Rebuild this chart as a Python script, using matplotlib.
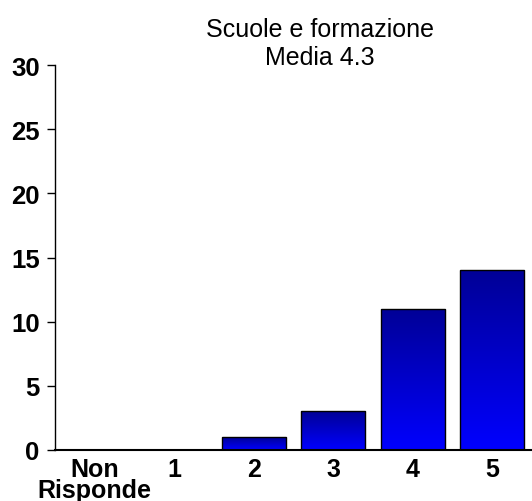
import numpy as np
import matplotlib.pyplot as plt
from matplotlib.colors import LinearSegmentedColormap

categories = ['Non\nRisponde', '1', '2', '3', '4', '5']
counts = [0, 0, 1, 3, 11, 14]
title_lines = ['Scuole e formazione', 'Media 4.3']
yticks = [0, 5, 10, 15, 20, 25, 30]

plt.rcParams['font.family'] = ['Liberation Sans', 'DejaVu Sans']

fig = plt.figure(figsize=(5.32, 5.02), dpi=100)
ax = fig.add_axes([0.1034, 0.1016, 0.8966, 0.7669])

# gradient fill: dark navy at the top of each bar, bright blue at the base
cmap = LinearSegmentedColormap.from_list('bluegrad', ['#0000FF', '#000096'])
grad = np.linspace(0, 1, 256).reshape(-1, 1)

x = np.arange(len(categories))
bars = ax.bar(x, counts, width=0.81, facecolor='none', edgecolor='black',
              linewidth=1.0, zorder=3)
for b in bars:
    h = b.get_height()
    if h <= 0:
        continue
    x0 = b.get_x()
    w = b.get_width()
    im = ax.imshow(grad, cmap=cmap, aspect='auto', origin='lower',
                   extent=[x0, x0 + w, 0, h], zorder=2)
    im.set_clip_path(b)

ax.set_xlim(-0.5, len(categories) - 0.5)
ax.set_ylim(0, 30)
ax.set_yticks(yticks)
ax.set_xticks(x)
ax.set_xticklabels(categories, fontsize=18, fontweight='bold', linespacing=0.85)
ax.tick_params(axis='x', length=0, pad=5)
ax.tick_params(axis='y', length=6, width=1, pad=5, labelsize=18.5)
for lab in ax.get_yticklabels():
    lab.set_fontweight('bold')

for s in ['top', 'right']:
    ax.spines[s].set_visible(False)
ax.spines['left'].set_linewidth(1)
ax.spines['bottom'].set_linewidth(1.5)

fig.text(0.601, 0.926, title_lines[0], ha='center', va='baseline', fontsize=18)
fig.text(0.601, 0.870, title_lines[1], ha='center', va='baseline', fontsize=18)

fig.savefig('out.png', dpi=100)
